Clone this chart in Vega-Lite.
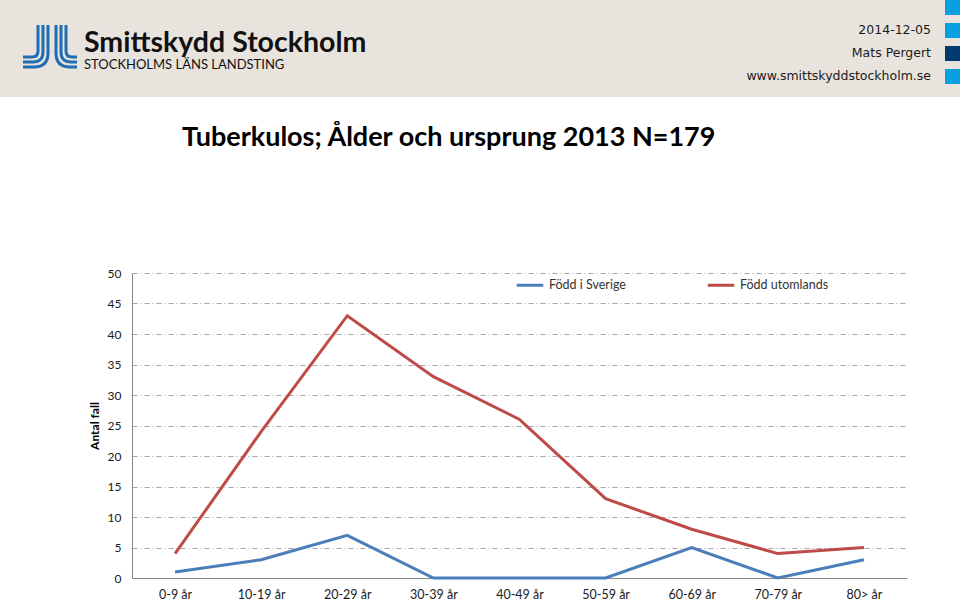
{
  "$schema": "https://vega.github.io/schema/vega-lite/v6.json",
  "background": "#ffffff",
  "padding": 0,
  "spacing": 27,
  "config": {"view": {"stroke": null}},
  "resolve": {"scale": {"color": "independent"}, "legend": {"color": "independent"}},
  "vconcat": [
    {
      "width": 960,
      "height": 97,
      "view": {"fill": "#E9E3DE", "stroke": null},
      "title": {
        "text": "Smittskydd Stockholm",
        "subtitle": "STOCKHOLMS LÄNS LANDSTING",
        "anchor": "start",
        "frame": "group",
        "orient": "top",
        "offset": -72,
        "dx": 84,
        "font": "Lato",
        "fontSize": 28.5,
        "fontWeight": "bold",
        "color": "#111111",
        "subtitleFont": "Lato",
        "subtitleFontSize": 13,
        "subtitleColor": "#111111",
        "subtitlePadding": 2
      },
      "data": {
        "values": [
          {"slot": 0, "label": "", "tone": "ljus"},
          {"slot": 1, "label": "2014-12-05", "tone": "ljus"},
          {"slot": 2, "label": "Mats Pergert", "tone": "mörk"},
          {"slot": 3, "label": "www.smittskyddstockholm.se", "tone": "ljus"}
        ]
      },
      "layer": [
        {
          "mark": {"type": "rect"},
          "encoding": {
            "y": {"field": "slot", "type": "ordinal", "axis": null, "scale": {"paddingInner": 0.348, "paddingOuter": 0.283, "align": 0}},
            "x": {"value": 945},
            "x2": {"value": "width"},
            "color": {"field": "tone", "type": "nominal", "legend": null, "scale": {"domain": ["ljus", "mörk"], "range": ["#0A9FE2", "#003B6F"]}}
          }
        },
        {
          "mark": {"type": "text", "align": "right", "baseline": "middle", "dx": -29, "font": "DejaVu Sans", "fontSize": 12.5, "color": "#1A1A1A"},
          "encoding": {
            "y": {"field": "slot", "type": "ordinal", "axis": null},
            "x": {"value": "width"},
            "text": {"field": "label"}
          }
        },
        {
          "data": {"values": [{"logo": "JL"}]},
          "mark": {
            "type": "point",
            "shape": "M-0.436,-0.764L-0.436,0.182Q-0.436,0.4,-0.655,0.4L-0.982,0.4M-0.255,-0.764L-0.255,0.218Q-0.255,0.582,-0.618,0.582L-0.982,0.582M-0.073,-0.764L-0.073,0.255Q-0.073,0.764,-0.582,0.764L-0.982,0.764M0.582,-0.764L0.582,0.182Q0.582,0.4,0.8,0.4L0.982,0.4M0.4,-0.764L0.4,0.218Q0.4,0.582,0.764,0.582L0.982,0.582M0.218,-0.764L0.218,0.255Q0.218,0.764,0.727,0.764L0.982,0.764",
            "size": 3025,
            "filled": false,
            "stroke": "#1F6DB3",
            "strokeWidth": 3,
            "opacity": 1
          },
          "encoding": {"x": {"value": 50}, "y": {"value": 46}}
        }
      ]
    },
    {
      "spacing": 20,
      "hconcat": [
        {
          "width": 68,
          "height": 10,
          "data": {"values": []},
          "mark": "point"
        },
        {
          "width": 775,
          "height": 305,
          "title": {
            "text": "Tuberkulos; Ålder och ursprung 2013 N=179",
            "anchor": "start",
            "frame": "group",
            "dx": 50,
            "offset": 94,
            "baseline": "alphabetic",
            "font": "Lato",
            "fontSize": 27,
            "fontWeight": "bold",
            "color": "#000000"
          },
          "data": {
            "values": [
              {"alder": "0-9 år", "ursprung": "Född i Sverige", "antal": 1},
              {"alder": "10-19 år", "ursprung": "Född i Sverige", "antal": 3},
              {"alder": "20-29 år", "ursprung": "Född i Sverige", "antal": 7},
              {"alder": "30-39 år", "ursprung": "Född i Sverige", "antal": 0},
              {"alder": "40-49 år", "ursprung": "Född i Sverige", "antal": 0},
              {"alder": "50-59 år", "ursprung": "Född i Sverige", "antal": 0},
              {"alder": "60-69 år", "ursprung": "Född i Sverige", "antal": 5},
              {"alder": "70-79 år", "ursprung": "Född i Sverige", "antal": 0},
              {"alder": "80> år", "ursprung": "Född i Sverige", "antal": 3},
              {"alder": "0-9 år", "ursprung": "Född utomlands", "antal": 4},
              {"alder": "10-19 år", "ursprung": "Född utomlands", "antal": 24},
              {"alder": "20-29 år", "ursprung": "Född utomlands", "antal": 43},
              {"alder": "30-39 år", "ursprung": "Född utomlands", "antal": 33},
              {"alder": "40-49 år", "ursprung": "Född utomlands", "antal": 26},
              {"alder": "50-59 år", "ursprung": "Född utomlands", "antal": 13},
              {"alder": "60-69 år", "ursprung": "Född utomlands", "antal": 8},
              {"alder": "70-79 år", "ursprung": "Född utomlands", "antal": 4},
              {"alder": "80> år", "ursprung": "Född utomlands", "antal": 5}
            ]
          },
          "mark": {"type": "line", "strokeWidth": 3},
          "encoding": {
            "x": {
              "field": "alder",
              "type": "ordinal",
              "sort": null,
              "scale": {"type": "point", "padding": 0.5},
              "axis": {"title": null, "labelAngle": 0, "ticks": false, "domainColor": "#868686", "labelPadding": 10, "labelFont": "Lato", "labelFontSize": 12.5, "labelColor": "#1A1A1A", "grid": false}
            },
            "y": {
              "field": "antal",
              "type": "quantitative",
              "scale": {"domain": [0, 50], "nice": false},
              "axis": {
                "title": "Antal fall",
                "values": [0, 5, 10, 15, 20, 25, 30, 35, 40, 45, 50],
                "ticks": false,
                "domainColor": "#868686",
                "gridColor": "#A5A5A5",
                "gridDash": [5, 3, 1, 3],
                "labelPadding": 11,
                "labelFont": "Lato",
                "labelFontSize": 12,
                "labelColor": "#1A1A1A",
                "titleFont": "Lato",
                "titleFontSize": 12,
                "titleFontWeight": "bold",
                "titleColor": "#000000",
                "titlePadding": 6
              }
            },
            "color": {
              "field": "ursprung",
              "type": "nominal",
              "scale": {"domain": ["Född i Sverige", "Född utomlands"], "range": ["#4A7EBB", "#BE4B48"]},
              "legend": {
                "title": null,
                "orient": "none",
                "legendX": 515,
                "legendY": -3,
                "direction": "horizontal",
                "columns": 2,
                "columnPadding": 75,
                "symbolType": "stroke",
                "symbolSize": 700,
                "symbolStrokeWidth": 3,
                "labelFont": "Lato",
                "labelFontSize": 12.5,
                "labelColor": "#333333",
                "labelOffset": 4
              }
            }
          }
        }
      ]
    }
  ]
}
